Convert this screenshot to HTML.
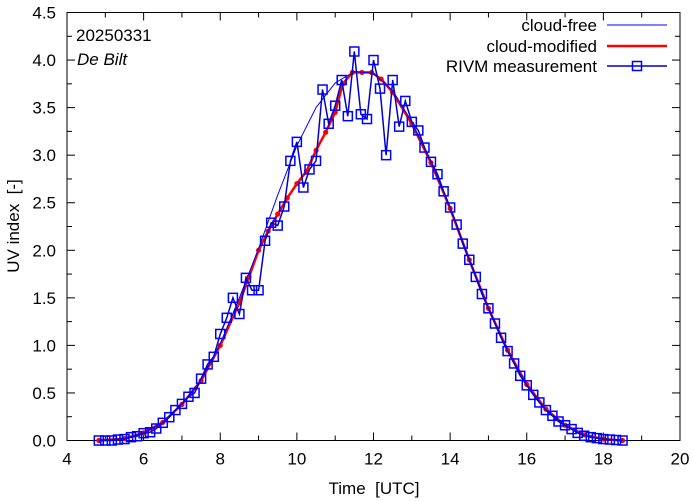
<!DOCTYPE html>
<html><head><meta charset="utf-8"><style>
body{margin:0;background:#fff;}
svg{display:block;font-family:"Liberation Sans",sans-serif;}
</style></head><body>
<svg id="chart" width="694" height="501" viewBox="0 0 694 501" xmlns="http://www.w3.org/2000/svg">
<rect x="0" y="0" width="694" height="501" fill="#fff"/>
<g id="axes"></g>
<g id="series"></g>
<text x="76" y="41" font-size="17">20250331</text>
<text x="77" y="65" font-size="17" font-style="italic">De Bilt</text>
<text x="374" y="494" font-size="17" text-anchor="middle" xml:space="preserve">Time  [UTC]</text>
<text transform="translate(19,226) rotate(-90)" font-size="17" text-anchor="middle" xml:space="preserve">UV index  [-]</text>
<g>
<text x="597" y="31" font-size="17" text-anchor="end">cloud-free</text>
<line x1="607" y1="25" x2="667" y2="25" stroke="#0000ff" stroke-width="1"/>
<text x="597" y="52" font-size="17" text-anchor="end">cloud-modified</text>
<line x1="607" y1="46" x2="667" y2="46" stroke="#ff0000" stroke-width="2.5"/>
<text x="597" y="72" font-size="17" text-anchor="end">RIVM measurement</text>
<line x1="607" y1="66" x2="667" y2="66" stroke="#0000cc" stroke-width="1.5"/>
<rect x="632.5" y="61.5" width="9" height="9" fill="none" stroke="#0000ff" stroke-width="1.5"/>
</g>
</svg>
<script>
const xTicks=[4,6,8,10,12,14,16,18,20];
const yTicks=[0,0.5,1,1.5,2,2.5,3,3.5,4,4.5];
const yTickLabels=["0.0","0.5","1.0","1.5","2.0","2.5","3.0","3.5","4.0","4.5"];
const measTimes=[4.83,5.0,5.17,5.33,5.5,5.67,5.83,6.0,6.17,6.33,6.5,6.67,6.83,7.0,7.17,7.33,7.5,7.67,7.83,8.0,8.17,8.33,8.5,8.67,8.83,9.0,9.17,9.33,9.5,9.67,9.83,10.0,10.17,10.33,10.5,10.67,10.83,11.0,11.17,11.33,11.5,11.67,11.83,12.0,12.17,12.33,12.5,12.67,12.83,13.0,13.17,13.33,13.5,13.67,13.83,14.0,14.17,14.33,14.5,14.67,14.83,15.0,15.17,15.33,15.5,15.67,15.83,16.0,16.17,16.33,16.5,16.67,16.83,17.0,17.17,17.33,17.5,17.67,17.83,18.0,18.17,18.33,18.5];
const measValues=[0,0,0,0.01,0.015,0.035,0.045,0.077,0.087,0.126,0.186,0.245,0.32,0.385,0.46,0.50,0.65,0.80,0.88,1.12,1.29,1.50,1.33,1.71,1.58,1.58,2.10,2.29,2.26,2.46,2.94,3.14,2.66,2.85,2.94,3.69,3.33,3.52,3.79,3.41,4.09,3.43,3.38,4.00,3.70,3.00,3.79,3.30,3.57,3.35,3.26,3.08,2.93,2.80,2.62,2.45,2.27,2.07,1.90,1.72,1.54,1.39,1.23,1.08,0.94,0.81,0.68,0.58,0.48,0.40,0.32,0.26,0.20,0.16,0.12,0.08,0.05,0.035,0.025,0.015,0.01,0.005,0];
const clearTimes=[4.83,5.5,6.0,6.5,7.0,7.5,8.0,8.5,9.0,9.5,10.0,10.5,11.0,11.5,12.0,12.5,13.0,13.5,14.0,14.5,15.0,15.5,16.0,16.5,17.0,17.5,18.0,18.5];
const clearValues=[0,0.02,0.08,0.19,0.38,0.64,1.02,1.5,2.02,2.58,3.1,3.5,3.76,3.88,3.86,3.68,3.35,2.93,2.45,1.90,1.39,0.94,0.58,0.32,0.16,0.05,0.015,0];
const modTimes=[4.83,5.5,6.0,6.5,7.0,7.5,8.0,8.5,8.75,9.0,9.25,9.5,9.75,10.0,10.25,10.5,10.75,11.0,11.2,11.45,11.7,11.95,12.2,12.5,13.0,13.5,14.0,14.5,15.0,15.5,16.0,16.5,17.0,17.5,18.0,18.5];
const modValues=[0,0.02,0.08,0.19,0.38,0.63,1.0,1.45,1.72,2.0,2.2,2.38,2.55,2.7,2.83,3.05,3.24,3.45,3.75,3.87,3.87,3.87,3.80,3.66,3.33,2.92,2.44,1.9,1.39,0.95,0.59,0.33,0.16,0.06,0.015,0];

const X0=67,X1=680,Y0=440.5,Y1=12.5;
const sx=t=>X0+(t-4)/16*(X1-X0);
const sy=v=>Y0-v/4.5*(Y0-Y1);
const NS="http://www.w3.org/2000/svg";
function mk(tag,attrs,parent){const e=document.createElementNS(NS,tag);for(const k in attrs)e.setAttribute(k,attrs[k]);parent.appendChild(e);return e;}
const axes=document.getElementById('axes');
const series=document.getElementById('series');
const frame=mk('rect',{x:X0,y:Y1,width:X1-X0,height:Y0-Y1,fill:'none',stroke:'#000','stroke-width':1},axes);


for(let t=4;t<=20;t++){
  const major=xTicks.includes(t);const L=major?8:5;
  const a=mk('line',{x1:sx(t),y1:Y0,x2:sx(t),y2:Y0-L,stroke:'#000'},axes);
  
  
  const b=mk('line',{x1:sx(t),y1:Y1,x2:sx(t),y2:Y1+L,stroke:'#000'},axes);
  
  
}
for(let k=1;k<18;k+=2){
  const v=k*0.25;
  const a=mk('line',{x1:X0,y1:sy(v),x2:X0+5,y2:sy(v),stroke:'#000'},axes);
  
  
  const b=mk('line',{x1:X1,y1:sy(v),x2:X1-5,y2:sy(v),stroke:'#000'},axes);
  
  
}
xTicks.forEach(t=>{
  const tx=mk('text',{x:sx(t),y:Y0+24,'font-size':17,'text-anchor':'middle'},axes);tx.textContent=t;
  
  
});
yTicks.forEach((v,i)=>{
  const a=mk('line',{x1:X0,y1:sy(v),x2:X0+8,y2:sy(v),stroke:'#000'},axes);
  
  
  const b=mk('line',{x1:X1,y1:sy(v),x2:X1-8,y2:sy(v),stroke:'#000'},axes);
  
  
  const tx=mk('text',{x:X0-11,y:sy(v)+6,'font-size':17,'text-anchor':'end'},axes);tx.textContent=yTickLabels[i];
  
  
});
function pts(ts,vs){return ts.map((t,i)=>sx(t).toFixed(1)+','+sy(vs[i]).toFixed(1)).join(' ');}
const cm=mk('polyline',{points:pts(modTimes,modValues),fill:'none',stroke:'#ff0000','stroke-width':2.5,'stroke-linejoin':'round'},series);


modTimes.forEach((t,i)=>{
  const d=mk('circle',{cx:sx(t),cy:sy(modValues[i]),r:2.6,fill:'#ff0000'},series);
  
  
});
const cf=mk('polyline',{points:pts(clearTimes,clearValues),fill:'none',stroke:'#0000ff','stroke-width':1,'stroke-linejoin':'round'},series);


const ml=mk('polyline',{points:pts(measTimes,measValues),fill:'none',stroke:'#0000cc','stroke-width':1.5},series);


measTimes.forEach((t,i)=>{
  const r=mk('rect',{x:sx(t)-4.5,y:sy(measValues[i])-4.5,width:9,height:9,fill:'none',stroke:'#0000ff','stroke-width':1.5},series);
  
  
});
</script>
</body></html>
